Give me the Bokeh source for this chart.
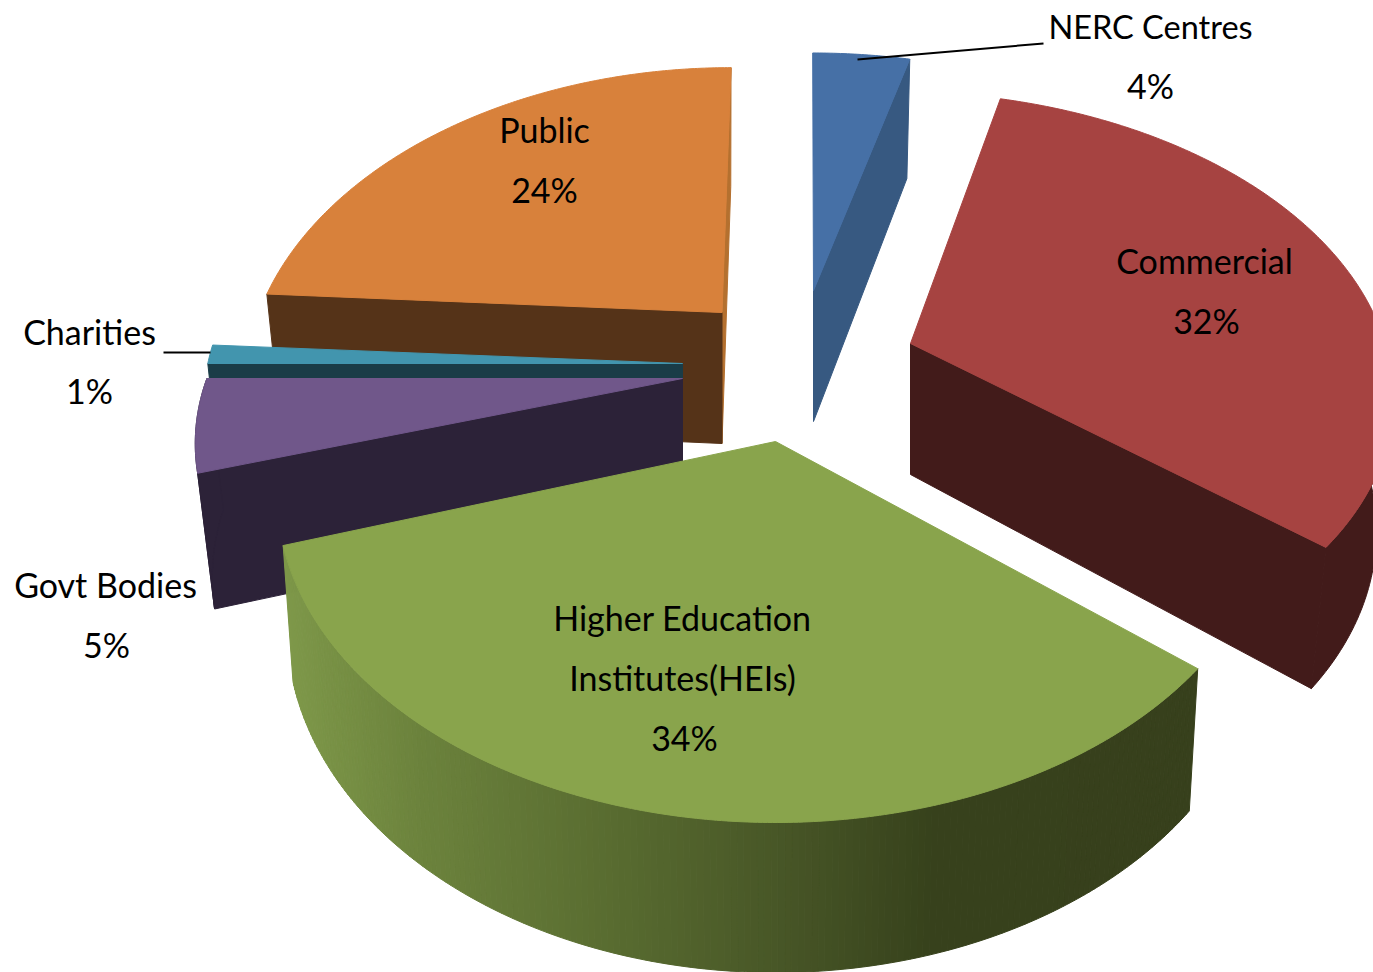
from math import radians, sin, cos

from bokeh.core.properties import value
from bokeh.embed import file_html
from bokeh.models import ColumnDataSource, Range1d
from bokeh.plotting import figure
from bokeh.resources import INLINE

# Funding share by sector, percent, clockwise from twelve o'clock
sectors = ["NERC Centres", "Commercial", "Higher Education Institutes(HEIs)",
           "Govt Bodies", "Charities", "Public"]
shares = [4, 32, 34, 5, 1, 24]

# Colours per sector: top face, cut face, rim
top_colors = ["#4670a6", "#a64341", "#89a44c", "#70578a", "#4295ae", "#d8813b"]
cut_colors = ["#375981", "#421b1a", "#37421c", "#2c2238", "#1a3c47", "#553318"]
rim_colors = ["#375981", "#421b1a", None, "#2c2238", "#1a3c47", "#553318"]
closing_colors = [None, None, None, None, None, "#b4702f"]

# Exploded position of each slice's apex on the canvas
apex_x = [813, 910, 775, 682, 682, 721.5]
apex_y = [290, 343, 441, 378, 363, 312]

# Projection of the tilted disc, with a small correction per slice
RADIUS_X, RADIUS_Y = 470.0, 298.0
DEPTH = 131.0
BASE_Y = 1.05
base_x = [0.97, 0.965, 0.98, 0.965, 0.97, 0.97]
near = [0.217, 0.15, 0.16, 0.217, 0.217, 0.217]
scale_x = [1.005, 1.01, 1.047, 1.012, 1.01, 0.985]
scale_y = [0.97, 0.971, 1.074, 0.96, 1.0, 1.0]
lean = [-1, -15.6, 0, 0, -40, 11]

# Green rim shading by horizontal position
rim_stops = [(283, (127, 153, 74)), (420, (108, 131, 61)), (620, (88, 107, 48)),
             (800, (70, 84, 38)), (930, (55, 66, 28)), (1200, (55, 64, 29))]


def rim_shade(x):
    for (x0, c0), (x1, c1) in zip(rim_stops, rim_stops[1:]):
        if x <= x1:
            t = max(0.0, (x - x0) / (x1 - x0))
            return "#%02x%02x%02x" % tuple(int(a + (b - a) * t) for a, b in zip(c0, c1))
    return "#%02x%02x%02x" % rim_stops[-1][1]


def offset(i, deg):
    a = radians(deg)
    d = 1 + near[i] * cos(a)
    dx = (RADIUS_X * scale_x[i] * sin(a) + lean[i] * cos(a)) / d
    dy = RADIUS_Y * scale_y[i] * cos(a) / d
    return dx, dy


def top_point(i, deg):
    dx, dy = offset(i, deg)
    return apex_x[i] + dx, apex_y[i] - dy


def base_point(i, deg):
    dx, dy = offset(i, deg)
    return apex_x[i] + dx * base_x[i], apex_y[i] + DEPTH - dy * BASE_Y


xs, ys, fills = [], [], []


def add(points, color):
    xs.append([pt[0] for pt in points])
    ys.append([pt[1] for pt in points])
    fills.append(color)


def cut_face(i, deg, color):
    add([(apex_x[i], apex_y[i]), top_point(i, deg), base_point(i, deg),
         (apex_x[i], apex_y[i] + DEPTH)], color)


total = sum(shares)
starts, ends = [], []
running = 0.0
for share in shares:
    starts.append(running * 360 / total)
    running += share
    ends.append(running * 360 / total)

# Painter's order: back slices first, the near large slice last
for i in [5, 4, 3, 0, 1, 2]:
    a0, a1 = starts[i], ends[i]
    if closing_colors[i]:
        cut_face(i, a1, closing_colors[i])
    if i == 5:
        cut_face(i, a0, cut_colors[i])
    elif i in (0, 1):
        cut_face(i, a1, cut_colors[i])
    elif i in (3, 4):
        cut_face(i, a0, cut_colors[i])

    # Outer rim, only the part that faces the viewer
    lo, hi = max(a0, 90.0), min(a1, 270.0)
    if lo < hi:
        steps = max(2, int((hi - lo) * 1.5))
        grid = [lo + (hi - lo) * k / steps for k in range(steps + 1)]
        if rim_colors[i]:
            add([top_point(i, d) for d in grid] + [base_point(i, d) for d in reversed(grid)],
                rim_colors[i])
        else:
            for d0, d1 in zip(grid, grid[1:]):
                tl, tr = top_point(i, d0), top_point(i, d1)
                bl, br = base_point(i, d0), base_point(i, d1)
                add([tl, tr, br, bl], rim_shade((tl[0] + tr[0] + bl[0] + br[0]) / 4))

    steps = max(2, int(a1 - a0) * 2)
    outline = [(apex_x[i], apex_y[i])]
    outline += [top_point(i, a0 + (a1 - a0) * k / steps) for k in range(steps + 1)]
    add(outline, top_colors[i])

p = figure(width=1373, height=972, output_backend="svg", toolbar_location=None,
           x_range=Range1d(0, 1373), y_range=Range1d(972, 0),
           x_axis_location=None, y_axis_location=None, min_border=0,
           background_fill_color="white", border_fill_color="white")
p.grid.visible = False
p.outline_line_color = None

p.patches("xs", "ys", fill_color="color", line_color="color", line_width=1,
          source=ColumnDataSource(dict(xs=xs, ys=ys, color=fills)))

# Leader lines for the two labels set outside their slices
p.segment([857, 163], [59, 352], [1043, 210], [43, 352], line_color="black", line_width=2)

label_x = [1150, 1150, 1204, 1206, 544, 544, 89, 89, 105, 106, 682, 682, 684]
label_y = [26, 85, 260, 320, 129, 189, 331, 390, 584, 644, 617, 677, 737]
label_text = ["NERC Centres", f"{shares[0]}%", "Commercial", f"{shares[1]}%",
              "Public", f"{shares[5]}%", "Charities", f"{shares[4]}%",
              "Govt Bodies", f"{shares[3]}%", "Higher Education", "Institutes(HEIs)",
              f"{shares[2]}%"]
label_size = ["32.5px"] + ["34px"] * 12
p.text("x", "y", text="text", text_font_size="size", text_align="center",
       text_baseline="middle", text_font=value("Lato"), text_color="black",
       source=ColumnDataSource(dict(x=label_x, y=label_y, text=label_text, size=label_size)))

open("out.html", "w").write(file_html(p, INLINE))
